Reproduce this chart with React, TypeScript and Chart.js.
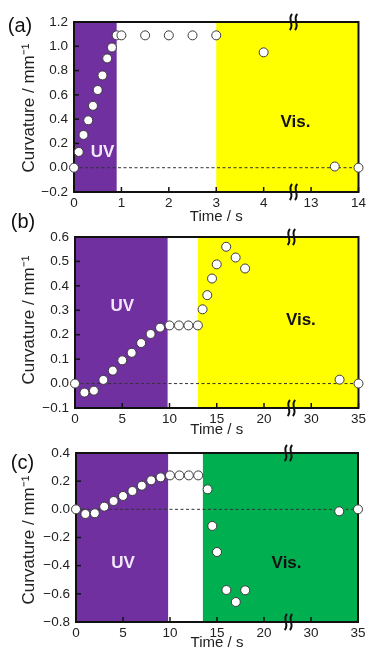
import React, { useEffect, useRef } from 'react';
import { Chart, registerables } from 'chart.js';

Chart.register(...registerables);

const FONT = '"Liberation Sans", Arial, Helvetica, sans-serif';

// ---------- Panel (a) ----------
const aTime = [0, 0.1, 0.2, 0.3, 0.4, 0.5, 0.6, 0.7, 0.8, 0.9, 1.0, 1.5, 2.0, 2.5, 3.0, 4.0, 13.5, 14];
const aCurv = [0, 0.13, 0.27, 0.39, 0.51, 0.64, 0.76, 0.9, 0.99, 1.09, 1.09, 1.09, 1.09, 1.09, 1.09, 0.95, 0.01, 0];
const aXTickValues = [0, 1, 2, 3, 4, 13, 14];
const aXTickLabels = ['0', '1', '2', '3', '4', '13', '14'];
const aYTickValues = [-0.2, 0, 0.2, 0.4, 0.6, 0.8, 1.0, 1.2];
const aYTickLabels = ['\u22120.2', '0.0', '0.2', '0.4', '0.6', '0.8', '1.0', '1.2'];

// ---------- Panel (b) ----------
const bTime = [0, 1, 2, 3, 4, 5, 6, 7, 8, 9, 10, 11, 12, 13, 13.5, 14, 14.5, 15, 16, 17, 18, 33, 35];
const bCurv = [0, -0.037, -0.029, 0.015, 0.053, 0.095, 0.126, 0.166, 0.203, 0.229, 0.238, 0.238, 0.238, 0.238, 0.304, 0.362, 0.43, 0.488, 0.56, 0.516, 0.471, 0.016, 0];
const bXTickValues = [0, 5, 10, 15, 20, 30, 35];
const bXTickLabels = ['0', '5', '10', '15', '20', '30', '35'];
const bYTickValues = [-0.1, 0, 0.1, 0.2, 0.3, 0.4, 0.5, 0.6];
const bYTickLabels = ['\u22120.1', '0.0', '0.1', '0.2', '0.3', '0.4', '0.5', '0.6'];

// ---------- Panel (c) ----------
const cTime = [0, 1, 2, 3, 4, 5, 6, 7, 8, 9, 10, 11, 12, 13, 14, 14.5, 15, 16, 17, 18, 33, 35];
const cCurv = [0, -0.033, -0.028, 0.019, 0.059, 0.095, 0.13, 0.168, 0.206, 0.227, 0.241, 0.241, 0.241, 0.241, 0.142, -0.118, -0.303, -0.573, -0.658, -0.575, -0.014, 0];
const cXTickValues = [0, 5, 10, 15, 20, 30, 35];
const cXTickLabels = ['0', '5', '10', '15', '20', '30', '35'];
const cYTickValues = [-0.8, -0.6, -0.4, -0.2, 0, 0.2, 0.4];
const cYTickLabels = ['\u22120.8', '\u22120.6', '\u22120.4', '\u22120.2', '0.0', '0.2', '0.4'];

type Panel = {
  key: string;
  label: string;
  time: number[];
  curv: number[];
  xTicks: number[];
  xLabels: string[];
  yTicks: number[];
  yLabels: string[];
  uvEnd: number;
  visStart: number;
  visColor: string;
  gapFrom: number; // time where the broken axis resumes
  shift: number; // removed span of the broken axis
  breakAt: number; // break position in axis units
  uvPos: [number, number];
  visPos: [number, number];
  top: number;
  height: number;
  padLeft: number;
  padRight: number;
  padBottom: number;
  xAxisH: number;
  yTitleCenter: [number, number];
  labelPos: [number, number];
};

const panels: Panel[] = [
  {
    key: 'a', label: '(a)', time: aTime, curv: aCurv,
    xTicks: aXTickValues, xLabels: aXTickLabels, yTicks: aYTickValues, yLabels: aYTickLabels,
    uvEnd: 0.9, visStart: 3, visColor: '#FFFF00',
    gapFrom: 13, shift: 8, breakAt: 4.63,
    uvPos: [0.6, 0.13], visPos: [4.67, 0.37],
    top: 0, height: 230, padLeft: 14, padRight: 10, padBottom: 4, xAxisH: 34,
    yTitleCenter: [28, 108], labelPos: [20, 25],
  },
  {
    key: 'b', label: '(b)', time: bTime, curv: bCurv,
    xTicks: bXTickValues, xLabels: bXTickLabels, yTicks: bYTickValues, yLabels: bYTickLabels,
    uvEnd: 9.8, visStart: 13, visColor: '#FFFF00',
    gapFrom: 30, shift: 5, breakAt: 22.9,
    uvPos: [5.0, 0.318], visPos: [23.9, 0.26],
    top: 215, height: 230, padLeft: 15, padRight: 10, padBottom: 6, xAxisH: 31,
    yTitleCenter: [28, 320], labelPos: [23, 221],
  },
  {
    key: 'c', label: '(c)', time: cTime, curv: cCurv,
    xTicks: cXTickValues, xLabels: cXTickLabels, yTicks: cYTickValues, yLabels: cYTickLabels,
    uvEnd: 9.8, visStart: 13.5, visColor: '#00B050',
    gapFrom: 30, shift: 5, breakAt: 22.6,
    uvPos: [5.0, -0.383], visPos: [22.4, -0.383],
    top: 431, height: 221, padLeft: 16, padRight: 11, padBottom: 0, xAxisH: 30,
    yTitleCenter: [28, 540], labelPos: [22.5, 462],
  },
];

function makeAxisMap(p: Panel) {
  return (t: number) => (t >= p.gapFrom ? t - p.shift : t);
}

function squiggle(ctx: CanvasRenderingContext2D, cx: number, cy: number) {
  for (const dx of [-2.6, 2.6]) {
    const x0 = cx + dx;
    ctx.beginPath();
    ctx.moveTo(x0 + 1.2, cy - 8);
    ctx.bezierCurveTo(x0 - 4, cy - 3, x0 + 4, cy + 3, x0 - 1.2, cy + 8);
    ctx.stroke();
  }
}

function panelPlugin(p: Panel) {
  const toAxis = makeAxisMap(p);
  return {
    id: 'panelDecor' + p.key,
    beforeDatasetsDraw(chart: any) {
      const { ctx, chartArea } = chart;
      const { left, right, top, bottom } = chartArea;
      const x = chart.scales.x;
      const y = chart.scales.y;
      ctx.save();
      // light regions
      const xu0 = x.getPixelForValue(0);
      const xu1 = x.getPixelForValue(toAxis(p.uvEnd));
      ctx.fillStyle = '#7030A0';
      ctx.fillRect(xu0, top, xu1 - xu0, bottom - top);
      const xv0 = x.getPixelForValue(toAxis(p.visStart));
      ctx.fillStyle = p.visColor;
      ctx.fillRect(xv0, top, right - xv0, bottom - top);
      // zero line
      const y0 = y.getPixelForValue(0);
      ctx.setLineDash([3, 2.5]);
      ctx.strokeStyle = '#333';
      ctx.lineWidth = 1;
      ctx.beginPath();
      ctx.moveTo(left, y0);
      ctx.lineTo(right, y0);
      ctx.stroke();
      ctx.setLineDash([]);
      // region labels
      ctx.font = `bold 17px ${FONT}`;
      ctx.textAlign = 'center';
      ctx.textBaseline = 'middle';
      ctx.fillStyle = '#F2E8FB';
      ctx.fillText('UV', x.getPixelForValue(p.uvPos[0]), y.getPixelForValue(p.uvPos[1]));
      ctx.fillStyle = '#111';
      ctx.fillText('Vis.', x.getPixelForValue(p.visPos[0]), y.getPixelForValue(p.visPos[1]));
      // frame
      ctx.strokeStyle = '#111';
      ctx.lineWidth = 2;
      ctx.strokeRect(left, top, right - left, bottom - top);
      // inward ticks
      ctx.lineWidth = 1.5;
      for (const v of p.xTicks) {
        const px = x.getPixelForValue(toAxis(v));
        ctx.beginPath();
        ctx.moveTo(px, bottom);
        ctx.lineTo(px, bottom - 5);
        ctx.stroke();
      }
      for (const v of p.yTicks) {
        const py = y.getPixelForValue(v);
        ctx.beginPath();
        ctx.moveTo(left, py);
        ctx.lineTo(left + 5, py);
        ctx.stroke();
      }
      // axis break marks
      ctx.lineWidth = 2;
      const bx = x.getPixelForValue(p.breakAt);
      squiggle(ctx, bx, top);
      squiggle(ctx, bx, bottom);
      ctx.restore();
    },
  };
}

function PanelChart({ p }: { p: Panel }) {
  const ref = useRef<HTMLCanvasElement | null>(null);
  useEffect(() => {
    if (!ref.current) return;
    const toAxis = makeAxisMap(p);
    const maxT = p.time[p.time.length - 1];
    const chart = new Chart(ref.current, {
      type: 'scatter',
      data: {
        datasets: [
          {
            data: p.time.map((t, i) => ({ x: toAxis(t), y: p.curv[i] })),
            pointRadius: 4.5,
            pointBackgroundColor: '#ffffff',
            pointBorderColor: '#3a3a3a',
            pointBorderWidth: 1,
            showLine: false,
            clip: false as any,
          },
        ],
      },
      options: {
        animation: false,
        responsive: false,
        maintainAspectRatio: false,
        events: [],
        layout: { padding: { top: 22, left: p.padLeft, right: p.padRight, bottom: p.padBottom } },
        plugins: { legend: { display: false }, tooltip: { enabled: false } },
        scales: {
          x: {
            type: 'linear',
            min: 0,
            max: toAxis(maxT),
            afterBuildTicks: (s: any) => {
              s.ticks = p.xTicks.map((v) => ({ value: toAxis(v) }));
            },
            afterFit: (s: any) => {
              s.height = p.xAxisH;
            },
            ticks: {
              callback: (_v: any, i: number) => p.xLabels[i],
              font: { family: FONT, size: 13.5 },
              color: '#222',
              padding: 3,
              maxRotation: 0,
              autoSkip: false,
            },
            grid: { display: false, drawTicks: false },
            border: { display: false },
            title: {
              display: true,
              text: 'Time / s',
              font: { family: FONT, size: 15 },
              color: '#222',
              padding: 0,
            },
          },
          y: {
            type: 'linear',
            min: p.yTicks[0],
            max: p.yTicks[p.yTicks.length - 1],
            afterBuildTicks: (s: any) => {
              s.ticks = p.yTicks.map((v) => ({ value: v }));
            },
            afterFit: (s: any) => {
              s.width = 60;
            },
            ticks: {
              callback: (_v: any, i: number) => p.yLabels[i],
              font: { family: FONT, size: 13.5 },
              color: '#222',
              padding: 6,
              autoSkip: false,
            },
            grid: { display: false, drawTicks: false },
            border: { display: false },
          },
        },
      } as any,
      plugins: [panelPlugin(p)],
    });
    return () => chart.destroy();
  }, [p]);
  return (
    <canvas
      ref={ref}
      width={369}
      height={p.height}
      style={{ position: 'absolute', left: 0, top: p.top, width: 369, height: p.height }}
    />
  );
}

export default function App() {
  return (
    <div
      style={{
        position: 'fixed',
        left: 0,
        top: 0,
        width: 369,
        height: 652,
        overflow: 'hidden',
        background: '#fff',
        fontFamily: FONT,
      }}
    >
      {panels.map((p) => (
        <PanelChart key={p.key} p={p} />
      ))}
      {panels.map((p) => (
        <div
          key={'yt' + p.key}
          style={{
            position: 'absolute',
            left: p.yTitleCenter[0],
            top: p.yTitleCenter[1],
            transform: 'translate(-50%, -50%) rotate(-90deg)',
            whiteSpace: 'nowrap',
            fontSize: 17,
            lineHeight: 1,
            color: '#222',
          }}
        >
          Curvature / mm{'\u207B\u00B9'}
        </div>
      ))}
      {panels.map((p) => (
        <div
          key={'lb' + p.key}
          style={{
            position: 'absolute',
            left: p.labelPos[0],
            top: p.labelPos[1],
            transform: 'translate(-50%, -50%)',
            whiteSpace: 'nowrap',
            fontSize: 20,
            lineHeight: 1,
            color: '#111',
          }}
        >
          {p.label}
        </div>
      ))}
    </div>
  );
}
